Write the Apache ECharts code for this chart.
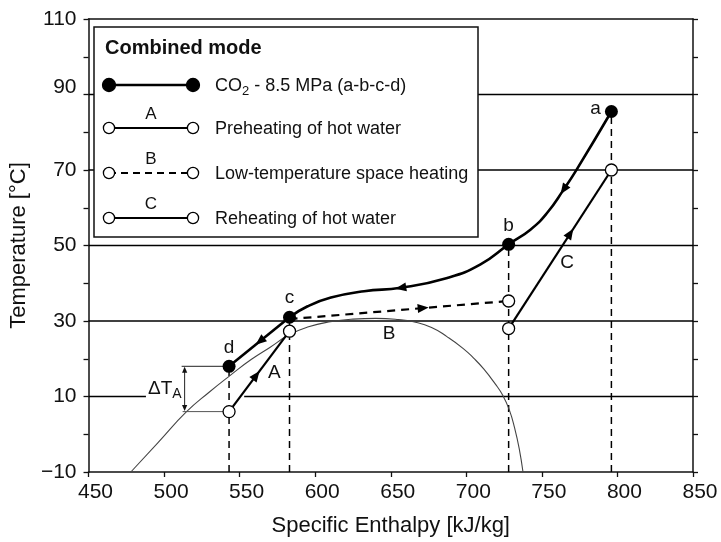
<!DOCTYPE html>
<html>
<head>
<meta charset="utf-8">
<title>Combined mode – CO2 heat pump</title>
<script src="https://cdn.jsdelivr.net/npm/echarts@6/dist/echarts.min.js"></script>
<style>
  html, body { margin: 0; padding: 0; background: #fff; }
  #chart { width: 721px; height: 542px; }
</style>
</head>
<body>
<div id="chart"></div>
<script>
// ---- Data -------------------------------------------------------------
// CO2 gas-cooler path at 8.5 MPa, flowing a -> b -> c -> d
const co2Enthalpy = [796, 773, 764.4, 753.4, 742.4, 728, 709.4, 687.4, 656.6, 632.4, 610.4, 595, 583, 543];
const co2Temp     = [85.5, 70.1, 64.8, 58.6, 54.2, 50.3, 45, 41.4, 38.8, 37.9, 36.2, 33.9, 31, 18];
const co2PointNames = ['a', 'b', 'c', 'd'];
const co2PointIndex = [0, 5, 12, 13];

// Water-side streams, each [start, end]
const streamNames     = ['A', 'B', 'C'];
const streamEnthalpy  = [[543, 583], [583, 728], [728, 796]];
const streamTemp      = [[6, 27.3], [30.5, 35.3], [28, 70]];

// Thin reference curve
const satEnthalpy = [478, 496, 514.7, 530, 544.4, 557.6, 570, 583, 595, 610, 625, 640, 655, 665, 677, 687.4, 698, 705, 711.5, 719, 724, 728.5, 732, 735, 737.5];
const satTemp     = [-10, -2.2, 5.9, 11.2, 15.8, 19.8, 23, 26.4, 28.4, 29.8, 30.5, 30.7, 30.4, 29.8, 28.3, 25.8, 22.7, 20.1, 17.3, 13.4, 10.4, 6.4, 1.6, -3.8, -10];

// Axes
const enthalpyRange = [450, 850];
const tempRange     = [-10, 110];
const tempLabels    = [-10, 10, 30, 50, 70, 90, 110];
const gridTemps     = [10, 30, 50, 70, 90];

// ---- Styling constants ------------------------------------------------
const FONT = "'Liberation Sans', Arial, Helvetica, sans-serif";
const INK = '#111';
const gridGapH = [488, 553];          // break in the 10 °C line around the ΔT label
const deltaBracketH = 513.6;          // enthalpy where the ΔT_A bracket sits
const streamArrowAt = [0.45, 0.61, 0.6];
const streamLabelOffset = [[15, 1], [-10, 24], [7, 13]];
const co2ArrowIndex = [2, 8];

// ---- Derived series data ---------------------------------------------
const cIdx = co2PointIndex[2];
const co2Curve = co2Enthalpy.slice(0, cIdx + 1).map((h, i) => [h, co2Temp[i]]);
const co2Tail  = co2Enthalpy.slice(cIdx).map((h, i) => [h, co2Temp[cIdx + i]]);
const satData  = satEnthalpy.map((h, i) => [h, satTemp[i]]);

const gridSeries = gridTemps.map(t => {
  let data = [[enthalpyRange[0], t], [enthalpyRange[1], t]];
  if (t === 10) {
    data = [[enthalpyRange[0], t], [gridGapH[0], t], [gridGapH[0], '-'], [gridGapH[1], t], [enthalpyRange[1], t]];
  }
  return {
    type: 'line', data, symbol: 'none', silent: true, z: 1,
    lineStyle: { color: '#000', width: 1.3 }, connectNulls: false, animation: false
  };
});

const dropSeries = co2PointIndex.map(i => ({
  type: 'line', symbol: 'none', silent: true, z: 2, animation: false,
  data: [[co2Enthalpy[i], tempRange[0]], [co2Enthalpy[i], co2Temp[i]]],
  lineStyle: { color: '#000', width: 1.5, type: [7, 5] }
}));

const streamSeries = streamNames.map((n, k) => ({
  type: 'line', symbol: 'none', silent: true, z: 3, animation: false,
  data: [[streamEnthalpy[k][0], streamTemp[k][0]], [streamEnthalpy[k][1], streamTemp[k][1]]],
  lineStyle: { color: '#000', width: 2.2, type: n === 'B' ? [8, 6] : 'solid' }
}));

// Arrow items: [x, y, fromX, fromY, toX, toY]
const arrowData = [];
co2ArrowIndex.forEach(i => arrowData.push([co2Enthalpy[i], co2Temp[i], co2Enthalpy[i - 1], co2Temp[i - 1], co2Enthalpy[i + 1], co2Temp[i + 1]]));
function along(h0, t0, h1, t1, f) { return [h0 + (h1 - h0) * f, t0 + (t1 - t0) * f, h0, t0, h1, t1]; }
arrowData.push(along(co2Enthalpy[cIdx], co2Temp[cIdx], co2Enthalpy[cIdx + 1], co2Temp[cIdx + 1], 0.49));
streamNames.forEach((n, k) => arrowData.push(along(streamEnthalpy[k][0], streamTemp[k][0], streamEnthalpy[k][1], streamTemp[k][1], streamArrowAt[k])));

const openPoints = [
  [streamEnthalpy[0][0], streamTemp[0][0]], [streamEnthalpy[0][1], streamTemp[0][1]],
  [streamEnthalpy[1][1], streamTemp[1][1]],
  [streamEnthalpy[2][0], streamTemp[2][0]], [streamEnthalpy[2][1], streamTemp[2][1]]
];

const filledPoints = co2PointIndex.map((i, k) => ({
  value: [co2Enthalpy[i], co2Temp[i]],
  name: co2PointNames[k],
  label: k === 0 ? { position: 'left', distance: 4, offset: [0, -3] } : { position: 'top', distance: 3 }
}));

const streamLabelPoints = streamNames.map((n, k) => ({
  value: [(streamEnthalpy[k][0] + streamEnthalpy[k][1]) / 2, (streamTemp[k][0] + streamTemp[k][1]) / 2],
  name: n,
  label: { offset: streamLabelOffset[k] }
}));

// ---- Legend (drawn as a boxed key) ------------------------------------
const LX0 = 109, LX1 = 193, TX = 215;
const legendRows = [
  { y: 85, key: '', text: '{n|CO}{s|2}{n| - 8.5 MPa (a-b-c-d)}', filled: true, dashed: false },
  { y: 128, key: 'A', text: '{n|Preheating of hot water}', filled: false, dashed: false },
  { y: 173, key: 'B', text: '{n|Low-temperature space heating}', filled: false, dashed: true },
  { y: 218, key: 'C', text: '{n|Reheating of hot water}', filled: false, dashed: false }
];
const legendEls = [{
  type: 'rect', z: 100, shape: { x: 94, y: 27, width: 384, height: 210 },
  style: { fill: '#fff', stroke: INK, lineWidth: 1.5 }
}, {
  type: 'text', z: 101, x: 105, y: 48,
  style: { text: 'Combined mode', font: 'bold 20px ' + FONT, fill: INK, align: 'left', verticalAlign: 'middle' }
}];
legendRows.forEach(r => {
  legendEls.push({
    type: 'line', z: 101, shape: { x1: LX0, y1: r.y, x2: LX1, y2: r.y },
    style: { stroke: '#000', lineWidth: r.filled ? 2.6 : 2, lineDash: r.dashed ? [7, 5] : null }
  });
  [LX0, LX1].forEach(cx => legendEls.push({
    type: 'circle', z: 102, shape: { cx, cy: r.y, r: r.filled ? 6.5 : 5.6 },
    style: { fill: r.filled ? '#000' : '#fff', stroke: '#000', lineWidth: 1.3 }
  }));
  if (r.key) legendEls.push({
    type: 'text', z: 101, x: (LX0 + LX1) / 2, y: r.y - 14,
    style: { text: r.key, font: '17px ' + FONT, fill: INK, align: 'center', verticalAlign: 'middle' }
  });
  legendEls.push({
    type: 'text', z: 101, x: TX, y: r.y + 1,
    style: {
      text: r.text, align: 'left', verticalAlign: 'middle',
      rich: {
        n: { fontSize: 18, fontFamily: FONT, fill: INK, color: INK },
        s: { fontSize: 13, fontFamily: FONT, fill: INK, color: INK, padding: [10, 0, 0, 0] }
      }
    }
  });
});

// ---- Chart -------------------------------------------------------------
const chart = echarts.init(document.getElementById('chart'), null, { renderer: 'canvas' });

const axisLineStyle = { color: INK, width: 1.5 };

chart.setOption({
  animation: false,
  backgroundColor: '#fff',
  textStyle: { fontFamily: FONT },
  grid: { left: 87, right: 28, top: 19, bottom: 69, containLabel: false },
  xAxis: [{
    type: 'value', position: 'bottom', min: enthalpyRange[0], max: enthalpyRange[1], interval: 50,
    name: 'Specific Enthalpy [kJ/kg]', nameLocation: 'middle', nameGap: 43,
    nameTextStyle: { fontSize: 22, color: INK, fontFamily: FONT },
    axisLine: { show: true, onZero: false, lineStyle: axisLineStyle },
    axisTick: { show: true, inside: false, length: 5, lineStyle: { color: INK, width: 1.3 } },
    axisLabel: { fontSize: 21, color: INK, fontFamily: FONT, margin: 10, padding: [0, 0, 0, 14], showMinLabel: true, showMaxLabel: true },
    splitLine: { show: false }
  }, {
    type: 'value', position: 'top', min: enthalpyRange[0], max: enthalpyRange[1], interval: 50,
    axisLine: { show: true, onZero: false, lineStyle: axisLineStyle },
    axisTick: { show: false }, axisLabel: { show: false }, splitLine: { show: false }
  }],
  yAxis: [{
    type: 'value', position: 'left', min: tempRange[0], max: tempRange[1], interval: 10,
    name: 'Temperature [°C]', nameLocation: 'middle', nameGap: 50,
    nameTextStyle: { fontSize: 22, color: INK, fontFamily: FONT },
    axisLine: { show: true, onZero: false, lineStyle: axisLineStyle },
    axisTick: { show: true, inside: false, length: 5, lineStyle: { color: INK, width: 1.3 } },
    axisLabel: {
      fontSize: 21, color: INK, fontFamily: FONT, margin: 12, showMinLabel: true, showMaxLabel: true,
      formatter: v => {
        if (tempLabels.indexOf(v) < 0) return '';
        const s = String(v).replace('-', '\u2212');
        return v === 90 ? '{up|' + s + '}' : s;
      },
      rich: { up: { fontSize: 21, fontFamily: FONT, color: INK, padding: [0, 0, 14, 0] } }
    },
    splitLine: { show: false }
  }, {
    type: 'value', position: 'right', min: tempRange[0], max: tempRange[1], interval: 10,
    axisLine: { show: true, onZero: false, lineStyle: axisLineStyle },
    axisTick: { show: true, inside: false, length: 5, lineStyle: { color: INK, width: 1.3 } },
    axisLabel: { show: false }, splitLine: { show: false }
  }],
  graphic: { elements: legendEls },
  series: [
    ...gridSeries,
    ...dropSeries,
    {
      type: 'line', data: satData, smooth: 0.5, symbol: 'none', silent: true, z: 3,
      lineStyle: { color: '#444', width: 1.1 }
    },
    ...streamSeries,
    {
      type: 'line', data: co2Curve, smooth: 0.5, symbol: 'none', silent: true, z: 4,
      lineStyle: { color: '#000', width: 2.6 }
    },
    {
      type: 'line', data: co2Tail, symbol: 'none', silent: true, z: 4,
      lineStyle: { color: '#000', width: 2.6 }
    },
    {
      // flow-direction arrowheads
      type: 'custom', z: 5, silent: true, clip: false, data: arrowData,
      renderItem: (params, api) => {
        const p = api.coord([api.value(0), api.value(1)]);
        const a = api.coord([api.value(2), api.value(3)]);
        const b = api.coord([api.value(4), api.value(5)]);
        let dx = b[0] - a[0], dy = b[1] - a[1];
        const L = Math.hypot(dx, dy) || 1; dx /= L; dy /= L;
        const len = 11, hw = 4.5;
        const tip = [p[0] + dx * len / 2, p[1] + dy * len / 2];
        const bx = p[0] - dx * len / 2, by = p[1] - dy * len / 2;
        return {
          type: 'polygon',
          shape: { points: [tip, [bx - dy * hw, by + dx * hw], [bx + dy * hw, by - dx * hw]] },
          style: { fill: '#000' }
        };
      }
    },
    {
      // ΔT_A bracket between d and the water inlet
      type: 'custom', z: 5, silent: true, clip: false,
      data: [[deltaBracketH, streamTemp[0][0], co2Temp[co2PointIndex[3]], co2Enthalpy[co2PointIndex[3]]]],
      renderItem: (params, api) => {
        const top = api.coord([api.value(0), api.value(2)]);
        const bot = api.coord([api.value(0), api.value(1)]);
        const endTop = api.coord([api.value(3), api.value(2)]);
        const endBot = api.coord([api.value(3), api.value(1)]);
        const x = top[0];
        const st = { stroke: '#222', lineWidth: 1 };
        return {
          type: 'group',
          children: [
            { type: 'line', shape: { x1: x - 3, y1: top[1], x2: endTop[0], y2: top[1] }, style: st },
            { type: 'line', shape: { x1: x - 2, y1: bot[1], x2: endBot[0], y2: bot[1] }, style: { stroke: '#555', lineWidth: 1 } },
            { type: 'line', shape: { x1: x, y1: top[1] + 4, x2: x, y2: bot[1] - 4 }, style: st },
            { type: 'polygon', shape: { points: [[x, top[1] + 0.5], [x - 2.6, top[1] + 6.5], [x + 2.6, top[1] + 6.5]] }, style: { fill: '#111' } },
            { type: 'polygon', shape: { points: [[x, bot[1] - 0.5], [x - 2.6, bot[1] - 6.5], [x + 2.6, bot[1] - 6.5]] }, style: { fill: '#111' } },
            {
              type: 'text', x: x - 3, y: (top[1] + bot[1]) / 2,
              style: {
                text: '{m|\u0394T}{s|A}', align: 'right', verticalAlign: 'middle',
                rich: {
                  m: { fontSize: 19, fontFamily: FONT, fill: INK },
                  s: { fontSize: 14, fontFamily: FONT, fill: INK, padding: [10, 0, 0, 0] }
                }
              }
            }
          ]
        };
      }
    },
    {
      type: 'scatter', data: openPoints, symbol: 'circle', symbolSize: 12, z: 6, silent: true,
      itemStyle: { color: '#fff', borderColor: '#000', borderWidth: 1.3, opacity: 1 }
    },
    {
      type: 'scatter', data: filledPoints, symbol: 'circle', symbolSize: 13, z: 7, silent: true,
      itemStyle: { color: '#000', opacity: 1 },
      label: { show: true, formatter: '{b}', fontSize: 19, color: INK, fontFamily: FONT, opacity: 1 }
    },
    {
      type: 'scatter', data: streamLabelPoints, symbol: 'circle', symbolSize: 1, z: 7, silent: true,
      itemStyle: { color: 'rgba(0,0,0,0)', opacity: 1 },
      label: { show: true, position: 'inside', formatter: '{b}', fontSize: 19, color: INK, fontFamily: FONT }
    }
  ]
});
</script>
</body>
</html>
